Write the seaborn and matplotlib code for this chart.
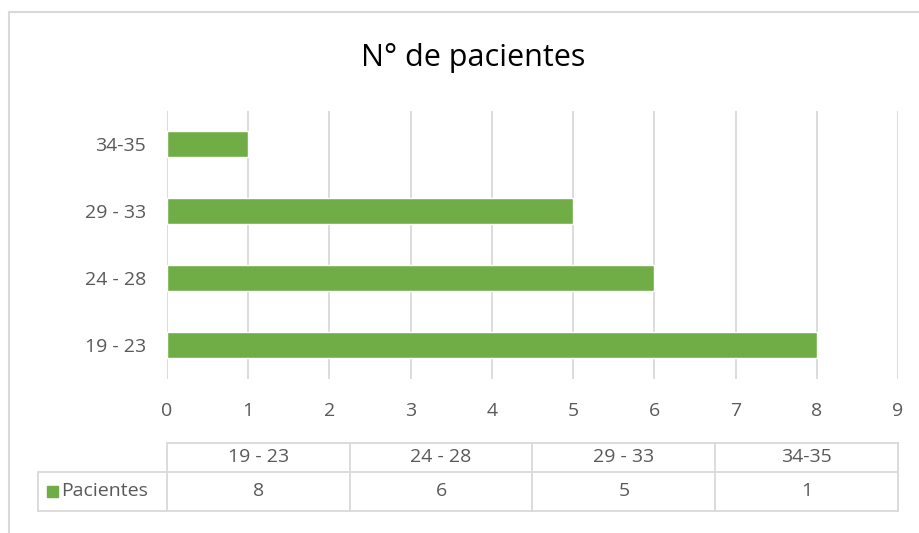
import numpy as np
import pandas as pd
import seaborn as sns
import matplotlib.pyplot as plt
from matplotlib.lines import Line2D
from matplotlib.patches import Rectangle

# data
categories = ['19 - 23', '24 - 28', '29 - 33', '34-35']
pacientes = [8, 6, 5, 1]
series_name = 'Pacientes'
title = 'N° de pacientes'

green = '#70AD47'
txt = '#595959'
grid = '#D9D9D9'

sns.set_theme(style='white')
plt.rcParams['font.family'] = ['Open Sans', 'DejaVu Sans']

W, H = 920, 533
fig = plt.figure(figsize=(W / 100, H / 100), dpi=100)


def fx(px):
    return px / W


def fy(py):
    return 1 - py / H


fs = 14

# plot area (pixel box from the reference)
x0, x1, ytop, ybot = 167, 898, 110.5, 378.5
ax = fig.add_axes([fx(x0), fy(ybot), fx(x1) - fx(x0), fy(ytop) - fy(ybot)])

df = pd.DataFrame({'grupo': categories, 'n': pacientes})
order = categories[::-1]
sns.barplot(data=df, x='n', y='grupo', order=order, color=green,
            width=0.4, saturation=1, ax=ax, orient='h')

ax.set_xlim(0, 9)
ax.set_ylim(len(categories) - 0.5, -0.5)
ax.set_xticks(range(0, 10))
ax.grid(axis='x', color=grid, linewidth=1.3)
ax.set_axisbelow(True)
for s in ax.spines.values():
    s.set_visible(False)
ax.tick_params(axis='both', length=0, colors=txt, labelsize=fs)
ax.tick_params(axis='x', pad=17)
ax.tick_params(axis='y', pad=15)
ax.set_xlabel('')
ax.set_ylabel('')

fig.text(fx(473), fy(58), title, ha='center', va='center', fontsize=22, color='black')

# chart border
fig.add_artist(Line2D([fx(9), fx(9)], [fy(12), fy(533)], color=grid, lw=1.5))
fig.add_artist(Line2D([fx(9), fx(920)], [fy(12), fy(12)], color=grid, lw=1.5))

# data table
col_w = (x1 - x0) / len(categories)
y_h0, y_h1, y_d1 = 443, 472, 511
lx = 38
fig.add_artist(Line2D([fx(x0), fx(x1)], [fy(y_h0)] * 2, color=grid, lw=1.3))
fig.add_artist(Line2D([fx(lx), fx(x1)], [fy(y_h1)] * 2, color=grid, lw=1.3))
fig.add_artist(Line2D([fx(lx), fx(x1)], [fy(y_d1)] * 2, color=grid, lw=1.3))
fig.add_artist(Line2D([fx(lx), fx(lx)], [fy(y_h1), fy(y_d1)], color=grid, lw=1.3))
for i in range(len(categories) + 1):
    xx = x0 + i * col_w
    fig.add_artist(Line2D([fx(xx), fx(xx)], [fy(y_h0), fy(y_d1)], color=grid, lw=1.3))
for i, (c, v) in enumerate(zip(categories, pacientes)):
    cx = x0 + (i + 0.5) * col_w
    fig.text(fx(cx), fy((y_h0 + y_h1) / 2), c, ha='center', va='center',
             fontsize=fs, color=txt)
    fig.text(fx(cx), fy((y_h1 + y_d1) / 2), str(v), ha='center', va='center',
             fontsize=fs, color=txt)
fig.add_artist(Rectangle((fx(47), fy(497)), fx(11), fy(486) - fy(497), color=green))
fig.text(fx(61), fy((y_h1 + y_d1) / 2), series_name, ha='left', va='center',
         fontsize=fs, color=txt)

plt.savefig('out.png', dpi=100)
